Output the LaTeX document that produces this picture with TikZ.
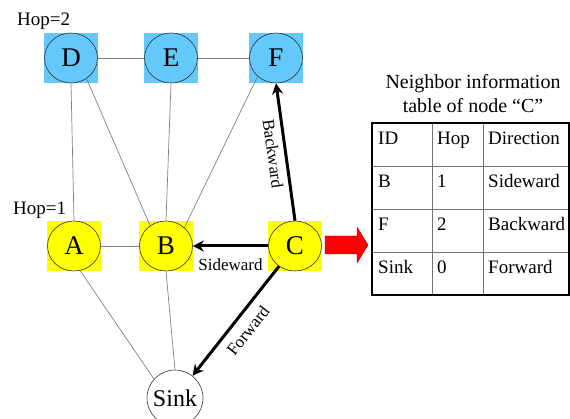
\documentclass[tikz,border=0pt]{standalone}
\usepackage{fontspec}
\setmainfont{Liberation Serif}
\usetikzlibrary{shapes.geometric,arrows.meta,backgrounds}

\definecolor{hopblue}{RGB}{100,200,250}
\definecolor{hopyellow}{RGB}{255,255,0}

\begin{document}
\begin{tikzpicture}[x=1pt,y=-1pt,
  sensor/.style={ellipse,draw=black!80,line width=0.6pt,minimum width=53pt,
    minimum height=50pt,inner sep=0pt,font=\fontsize{27}{30}\selectfont},
  hoptwo/.style={sensor,fill=hopblue},
  hopone/.style={sensor,fill=hopyellow},
  sinknode/.style={circle,draw=black!80,line width=0.6pt,fill=white,
    minimum size=56pt,inner sep=0pt,font=\fontsize{24}{26}\selectfont},
  link/.style={draw=black!50,line width=0.7pt},
  dirarrow/.style={line width=3pt,-{Stealth[length=11pt,width=11pt]}},
  lbl/.style={font=\fontsize{17}{20}\selectfont,inner sep=2pt},
  hoplbl/.style={anchor=base west,inner sep=0pt,font=\fontsize{19}{22}\selectfont},
  cell/.style={anchor=base west,inner sep=0pt,font=\fontsize{19}{22}\selectfont},
  ttl/.style={anchor=base,inner sep=0pt,font=\fontsize{20}{24}\selectfont},
  grid/.style={draw=black!55,line width=0.8pt}]

\useasboundingbox (0,0) rectangle (570,419);

% sensor nodes
\node[hoptwo] (D) at (71,58) {D};
\node[hoptwo] (E) at (171,58) {E};
\node[hoptwo] (F) at (276,58) {F};
\node[hopone] (A) at (74,246) {A};
\node[hopone] (B) at (166,246) {B};
\node[hopone] (C) at (295,246) {C};
\node[sinknode] (Sink) at (175,398) {Sink};

% square patches behind the sensor nodes
\begin{scope}[on background layer]
  \foreach \n in {D,E,F}
    \fill[hopblue] (\n.west |- \n.north) rectangle (\n.east |- \n.south);
  \foreach \n in {A,B,C}
    \fill[hopyellow] (\n.west |- \n.north) rectangle (\n.east |- \n.south);
\end{scope}

% hop level labels
\node[hoplbl] (h2) at (17,26) {Hop=2};
\node[hoplbl] (h1) at (13,215) {Hop=1};

% plain links
\draw[link] (D) -- (E);
\draw[link] (E) -- (F);
\draw[link] (D.south) -- (A.north);
\draw[link] (D.-53) -- (B.128);
\draw[link] (E.south) -- (B.north);
\draw[link] (F.-135) -- (B.45);
\draw[link] (A) -- (B);
\draw[link] (A.-76) -- (Sink.138);
\draw[link] (B.south) -- (Sink.north);

% direction arrows from C
\draw[dirarrow] (C.north) -- node[lbl,sloped,below=3pt] {Backward} (F.south);
\draw[dirarrow] (C) -- node[lbl,below=9pt] {Sideward} (B);
\draw[dirarrow] (C) -- node[lbl,sloped,below=6pt] {Forward} (Sink);

% red block arrow
\fill[red,draw=red!75!black,line width=0.4pt]
  (325,236) -- (357,236) -- (357,227) -- (368,245) -- (357,263) -- (357,254)
  -- (325,254) -- cycle;

% table title
\node[ttl] (t1) at (473,89) {Neighbor information};
\node[ttl] (t2) at (473,113) {table of node “C”};

% table grid
\draw[grid] (432,123) -- (432,295);
\draw[grid] (483,123) -- (483,295);
\draw[grid] (372,166) -- (569,166);
\draw[grid] (372,209) -- (569,209);
\draw[grid] (372,252) -- (569,252);
\draw[line width=2pt] (372,123) rectangle (569,295);

% table entries
\node[cell] (c11) at (378,145) {ID};
\node[cell] (c12) at (437,145) {Hop};
\node[cell] (c13) at (488,145) {Direction};
\node[cell] (c21) at (378,188) {B};
\node[cell] (c22) at (437,188) {1};
\node[cell] (c23) at (488,188) {Sideward};
\node[cell] (c31) at (378,231) {F};
\node[cell] (c32) at (437,231) {2};
\node[cell] (c33) at (488,231) {Backward};
\node[cell] (c41) at (378,274) {Sink};
\node[cell] (c42) at (437,274) {0};
\node[cell] (c43) at (488,274) {Forward};

\end{tikzpicture}
\end{document}
